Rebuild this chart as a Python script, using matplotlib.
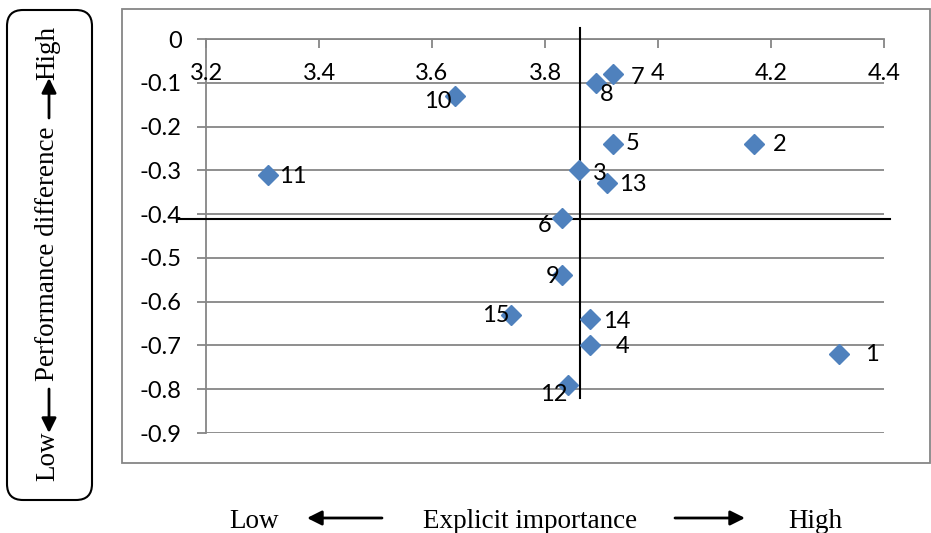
import numpy as np
import matplotlib.pyplot as plt
from matplotlib.patches import Rectangle, FancyBboxPatch, FancyArrowPatch

plt.rcParams['axes.unicode_minus'] = False

# attribute number, explicit importance (x), performance difference (y)
items = [1, 2, 3, 4, 5, 6, 7, 8, 9, 10, 11, 12, 13, 14, 15]
importance = [4.32, 4.17, 3.86, 3.88, 3.92, 3.83, 3.92, 3.89, 3.83, 3.64, 3.31, 3.84, 3.91, 3.88, 3.74]
perf_diff = [-0.72, -0.24, -0.30, -0.70, -0.24, -0.41, -0.08, -0.10, -0.54, -0.13, -0.31, -0.79, -0.33, -0.64, -0.63]

x_ticks = [3.2, 3.4, 3.6, 3.8, 4.0, 4.2, 4.4]
y_ticks = [0, -0.1, -0.2, -0.3, -0.4, -0.5, -0.6, -0.7, -0.8, -0.9]

# label offsets in pixels (right, down) like the Excel labels
label_off = {1: (33, 0), 2: (26, 0), 3: (21, 3), 4: (32, 1), 5: (20, -1),
             6: (-17, 7), 7: (25, 3), 8: (11, 12), 9: (-9, 1), 10: (-17, 6),
             11: (25, 2), 12: (-14, 10), 13: (26, 1), 14: (27, 2), 15: (-15, 1)}

W, H = 931, 533
fig = plt.figure(figsize=(W / 100, H / 100), dpi=100)
gray = '#868686'
blue = '#4F81BD'
tick_font = 'Lato'
fs = 17
serif = 'Liberation Serif'
sfs = 19.5

ax = fig.add_axes([206 / W, 1 - 433 / H, 678 / W, 394 / H])
ax.set_facecolor('none')
ax.set_xlim(3.2, 4.4)
ax.set_ylim(-0.9, 0)

for s in ['bottom', 'right']:
    ax.spines[s].set_visible(False)
for s in ['left', 'top']:
    ax.spines[s].set_color(gray)
    ax.spines[s].set_linewidth(1.3)

ax.set_yticks(y_ticks)
ax.set_yticklabels([f'{v:g}' for v in y_ticks], fontfamily=tick_font, fontsize=fs)
ax.set_xticks(x_ticks)
ax.tick_params(axis='y', direction='out', length=6.5, color=gray, width=1.3, pad=11)
ax.tick_params(axis='x', top=True, bottom=False, labelbottom=False, labeltop=False,
               direction='in', length=6.5, color=gray, width=1.3)
ax.grid(axis='y', color=gray, linewidth=1.3)
ax.set_axisbelow(True)

# x tick labels sit just below the axis line at y=0
for v in x_ticks:
    ax.annotate(f'{v:g}', (v, 0), xytext=(0, -34), textcoords='offset pixels',
                ha='center', va='center', fontfamily=tick_font, fontsize=fs)

# mean lines
mx = np.mean(importance)
my = np.mean(perf_diff)
ax.plot([mx, mx], [0.025, -0.82], color='black', lw=1.5, clip_on=False, zorder=3)
ax.plot([3.149, 4.41], [my, my], color='black', lw=1.5, clip_on=False, zorder=3)

ax.plot(importance, perf_diff, 'D', color=blue, markersize=10, zorder=4, clip_on=False)
for n, xv, yv in zip(items, importance, perf_diff):
    dx, dy = label_off[n]
    ax.annotate(str(n), (xv, yv), xytext=(dx, -dy), textcoords='offset pixels',
                ha='center', va='center', fontfamily=tick_font, fontsize=fs, zorder=5)

# overlay in pixel coordinates for the frames and axis titles
ov = fig.add_axes([0, 0, 1, 1])
ov.set_xlim(0, W)
ov.set_ylim(H, 0)
ov.axis('off')

ov.add_patch(Rectangle((122, 9), 808, 454, fill=False, edgecolor=gray, lw=1.3))
ov.add_patch(FancyBboxPatch((7, 10), 85, 490, boxstyle='round,pad=0,rounding_size=16',
                            fill=False, edgecolor='black', lw=1.5))

ov.text(48, 53, 'High', rotation=90, ha='center', va='center', fontfamily=serif, fontsize=sfs)
ov.text(48, 254, 'Performance difference', rotation=90, ha='center', va='center',
        fontfamily=serif, fontsize=19.5)
ov.text(48, 456, 'Low', rotation=90, ha='center', va='center', fontfamily=serif, fontsize=sfs)

arrow_kw = dict(arrowstyle='-|>', mutation_scale=22, color='black', lw=2, shrinkA=0, shrinkB=0)
ov.add_patch(FancyArrowPatch((49, 118), (49, 78), **arrow_kw))
ov.add_patch(FancyArrowPatch((49, 389), (49, 433), **arrow_kw))

ov.text(254, 528, 'Low', ha='center', va='baseline', fontfamily=serif, fontsize=sfs)
ov.text(530, 528, 'Explicit importance', ha='center', va='baseline', fontfamily=serif, fontsize=sfs)
ov.text(815, 528, 'High', ha='center', va='baseline', fontfamily=serif, fontsize=sfs)
ov.add_patch(FancyArrowPatch((382, 518), (307, 518), **arrow_kw))
ov.add_patch(FancyArrowPatch((675, 518), (745, 518), **arrow_kw))

fig.savefig('out.png', dpi=100)
